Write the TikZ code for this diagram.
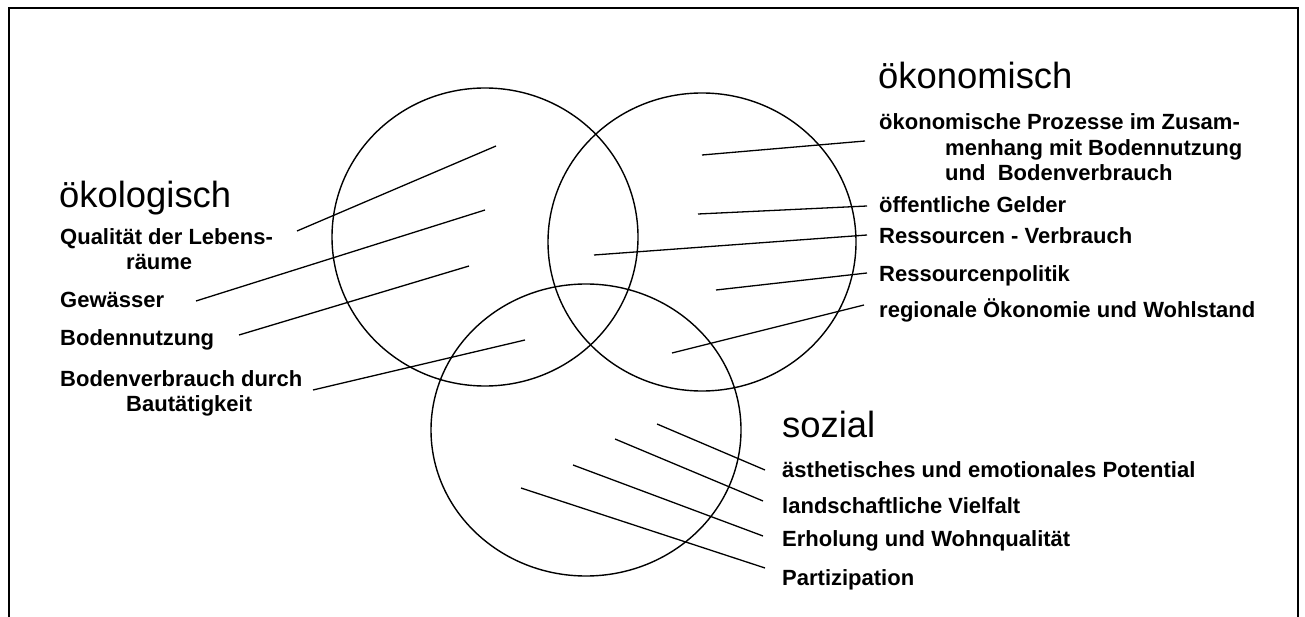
\documentclass[tikz,border=0pt]{standalone}
\usepackage{fontspec}
\setmainfont{Liberation Sans}

\begin{document}
\begin{tikzpicture}[x=1pt,y=-1pt,
  ring/.style={draw=black, line width=1.4pt},
  lead/.style={draw=black, line width=1.3pt},
  frameline/.style={draw=black, line width=2pt},
  head/.style={anchor=base west, inner sep=0pt,
    font=\fontsize{36.4}{42}\selectfont},
  item/.style={anchor=base west, inner sep=0pt, align=left,
    font=\bfseries\fontsize{22}{25}\selectfont}]

\useasboundingbox (0,0) rectangle (1305,617);

% open frame (no bottom edge)
\draw[frameline] (8.5,617) -- (8.5,8.5) -- (1297.5,8.5) -- (1297.5,617);

% the three overlapping circles
\draw[ring] (485,237) ellipse [x radius=153, y radius=149];
\draw[ring] (702,242) ellipse [x radius=154, y radius=149];
\draw[ring] (586,430) ellipse [x radius=155, y radius=146];

% headings
\node[head] (oek) at (59,208) {ökologisch};
\node[head] (oen) at (878,89) {ökonomisch};
\node[head] (soz) at (782,437) {sozial};

% ecological items (multi-line nodes sit on their last baseline)
\node[item] (l1) at (60,270) {Qualität der Lebens-\\\hspace*{66pt}räume};
\node[item] (l2) at (60,307) {Gewässer};
\node[item] (l3) at (60,345) {Bodennutzung};
\node[item] (l4) at (60,411) {Bodenverbrauch durch\\\hspace*{66pt}Bautätigkeit};

% economic items
\node[item, font=\bfseries\fontsize{22}{25.5}\selectfont] (r1) at (879,181)
  {ökonomische Prozesse im Zusam-\\\hspace*{66pt}menhang mit Bodennutzung\\\hspace*{66pt}und\ \ Bodenverbrauch};
\node[item] (r2) at (879,213) {öffentliche Gelder};
\node[item] (r3) at (879,244) {Ressourcen - Verbrauch};
\node[item] (r4) at (879,282) {Ressourcenpolitik};
\node[item] (r5) at (879,317) {regionale Ökonomie und Wohlstand};

% social items
\node[item] (s1) at (782,477) {ästhetisches und emotionales Potential};
\node[item] (s2) at (782,513) {landschaftliche Vielfalt};
\node[item] (s3) at (782,546) {Erholung und Wohnqualität};
\node[item] (s4) at (782,585.5) {Partizipation};

% leader line ends
\coordinate (l1a) at (297,231); \coordinate (l1b) at (496,146);
\coordinate (l2a) at (196,301); \coordinate (l2b) at (485,210);
\coordinate (l3a) at (239,335); \coordinate (l3b) at (469,266);
\coordinate (l4a) at (313,390); \coordinate (l4b) at (525,340);

\coordinate (r1a) at (865,141); \coordinate (r1b) at (702,155);
\coordinate (r2a) at (867,206); \coordinate (r2b) at (698,214);
\coordinate (r3a) at (867,235); \coordinate (r3b) at (594,255);
\coordinate (r4a) at (867,273); \coordinate (r4b) at (716,290);
\coordinate (r5a) at (864,305); \coordinate (r5b) at (672,353);

\coordinate (s1a) at (765,470); \coordinate (s1b) at (657,424);
\coordinate (s2a) at (763,501); \coordinate (s2b) at (615,439);
\coordinate (s3a) at (763,536); \coordinate (s3b) at (573,465);
\coordinate (s4a) at (765,568); \coordinate (s4b) at (521,488);

% leader lines
\foreach \k in {l1,l2,l3,l4,r1,r2,r3,r4,r5,s1,s2,s3,s4}
  \draw[lead] (\k a) -- (\k b);

\end{tikzpicture}
\end{document}
